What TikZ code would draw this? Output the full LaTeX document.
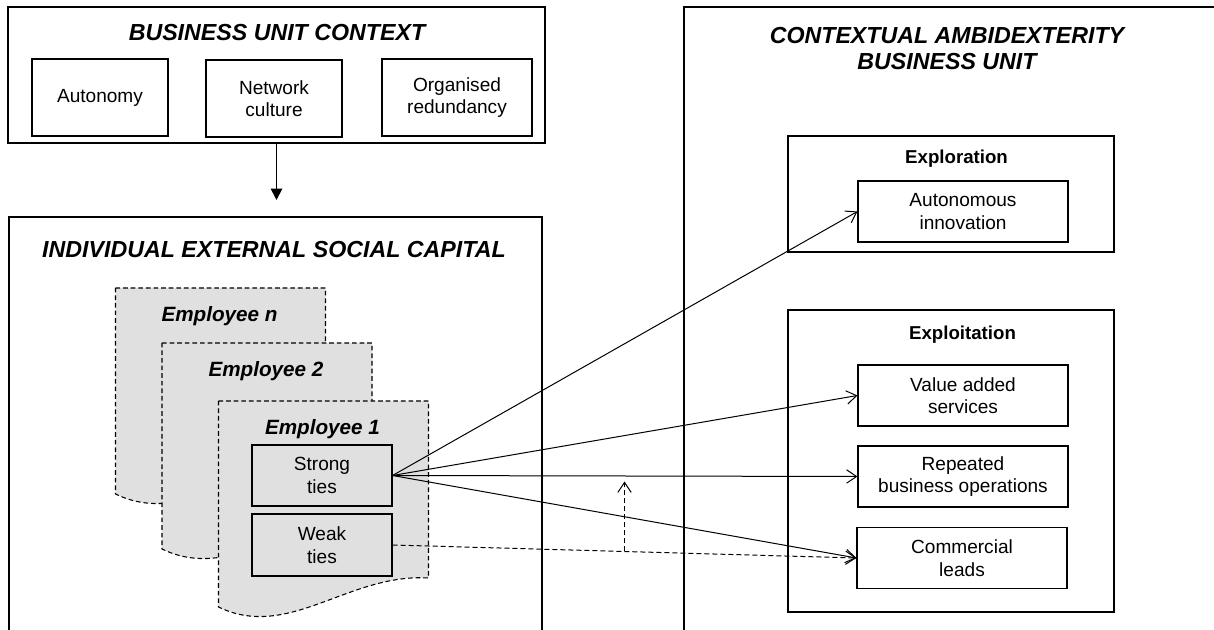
\documentclass[tikz,border=0pt]{standalone}
\usepackage{fontspec}
\setmainfont{Liberation Sans}
\usetikzlibrary{arrows.meta,positioning}
\tikzstyle{outer} = [draw,line width=0.8pt,rectangle,inner sep=0,fill=white]
\tikzstyle{factor} = [draw,line width=0.8pt,rectangle,inner sep=0,fill=white,align=center,font=\fontsize{14.3}{16.8}\selectfont,minimum width=157.5pt,minimum height=45.75pt]
\tikzstyle{tie} = [factor,fill=black!12,minimum width=105pt]
\tikzstyle{heading} = [align=center,font=\fontsize{17.4}{19.5}\selectfont\bfseries\itshape]
\tikzstyle{subheading} = [font=\fontsize{14}{16}\selectfont\bfseries]
\tikzstyle{emplabel} = [font=\fontsize{15.5}{18}\selectfont\bfseries\itshape]
\tikzstyle{sheet} = [draw,line width=0.8pt,dash pattern=on 3.5pt off 2.2pt,fill=black!12]
\tikzstyle{link} = [line width=0.75pt,-{Straight Barb[length=7.5pt,width=10pt]}]
\tikzstyle{dlink} = [link,dash pattern=on 3.75pt off 2.25pt]

\begin{document}
\begin{tikzpicture}[x=0.75pt,y=-0.75pt]
  \useasboundingbox (0,0) rectangle (1214,630);
  \clip (0,0) rectangle (1214,630);
  % business unit context
  \node[outer,minimum width=402.75pt,minimum height=102pt] (ctx) at (276.5,75) {};
  \node[heading] (ctxtitle) at (277,33) {BUSINESS UNIT CONTEXT};
  \node[factor,minimum width=102pt,minimum height=57.75pt] (auton) at (100,97.5) {Autonomy};
  \node[factor,minimum width=102pt,minimum height=57.75pt] (netw) at (274,98.5) {Network\\culture};
  \node[factor,minimum width=112.5pt,minimum height=57.75pt] (orgr) at (457,97.5) {Organised\\redundancy};
  \coordinate (ctxend) at (276.5,200);
  \draw[line width=1.4pt,-{Triangle[length=8.5pt,width=8.5pt]}] (ctx.south) -- (ctxend);
  % individual external social capital
  \node[outer,minimum width=399.75pt,minimum height=324.75pt] (iesc) at (275.5,433.5) {};
  \node[heading] (iesctitle) at (274,250) {INDIVIDUAL EXTERNAL SOCIAL CAPITAL};
  \foreach \dx/\dy/\lab in {115.5/288/n,162/343/2,218.5/401/1}{
    \begin{scope}[shift={(\dx,\dy)}]
      \draw[sheet] (0,0) -- (210,0) -- (210,177) .. controls (130,172) and (70,240) .. (0,206) -- cycle;
      \node[emplabel] (emp\lab) at (104,28) {Employee \lab};
    \end{scope}
  }
  \node[tie,minimum height=45.75pt] (strong) at (322,475.5) {Strong\\ties};
  \node[tie,minimum height=46.5pt] (weak) at (322,545) {Weak\\ties};
  % contextual ambidexterity
  \node[outer,minimum width=417pt,minimum height=482.25pt] (cabu) at (962,328.5) {};
  \node[heading] (cabutitle) at (947,48.5) {CONTEXTUAL AMBIDEXTERITY\\BUSINESS UNIT};
  \node[outer,minimum width=244.5pt,minimum height=87pt] (explor) at (951,194) {};
  \node[subheading] (explorlab) at (956.5,159) {Exploration};
  \node[factor] (autinn) at (963,211.5) {Autonomous\\innovation};
  \node[outer,minimum width=244.5pt,minimum height=226.5pt] (exploit) at (951,461) {};
  \node[subheading] (exploitlab) at (962.5,335) {Exploitation};
  \node[factor] (vas) at (963,395.5) {Value added\\services};
  \node[factor] (rbo) at (963,476.5) {Repeated\\business operations};
  \node[factor] (cml) at (962,558) {Commercial\\leads};
  % links
  \draw[link] (strong.east) -- (autinn.west);
  \draw[link] (strong.east) -- (vas.west);
  \draw[link] (strong.east) -- (rbo.west);
  \draw[link] (strong.east) -- (cml.west);
  \draw[dlink] (weak.east) -- (cml.west) coordinate[midway] (wmid);
  \draw[dlink,shorten >=3.75pt] (wmid) -- (wmid |- rbo.west);
\end{tikzpicture}
\end{document}
